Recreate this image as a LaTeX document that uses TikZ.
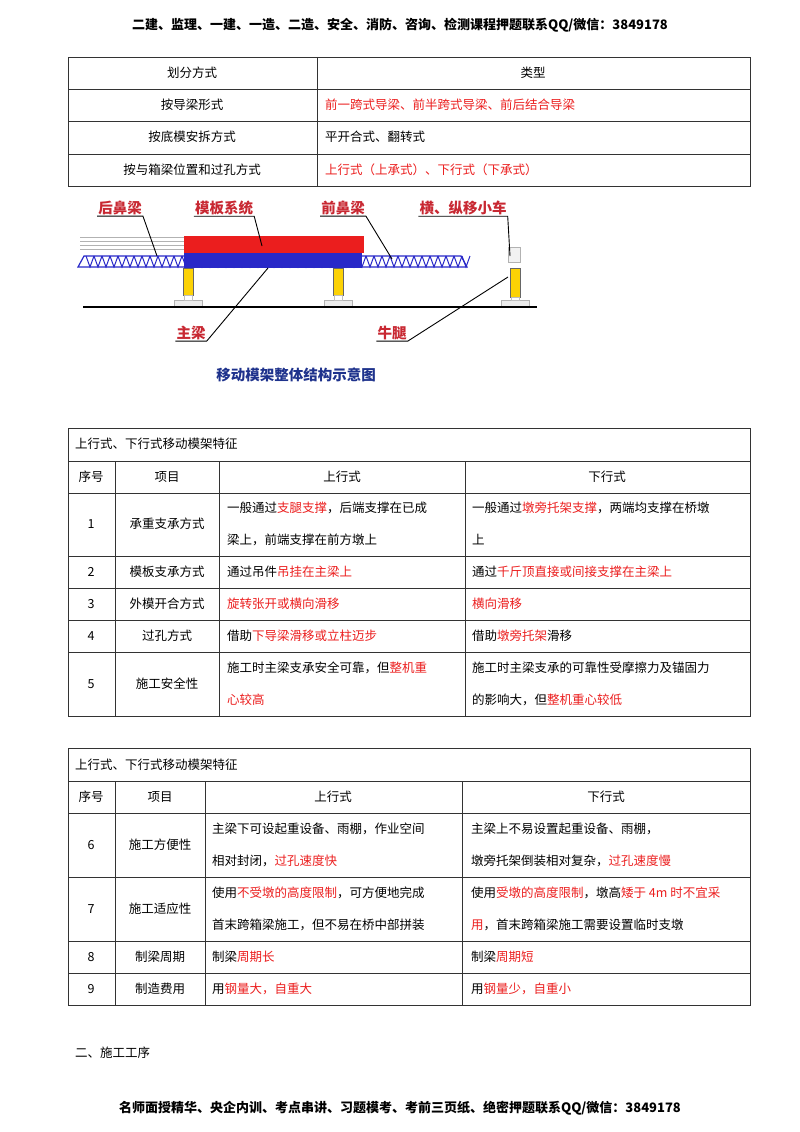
\documentclass[tikz,border=0pt]{standalone}
\usepackage{fontspec}
\setmainfont{Noto Sans CJK SC}
\definecolor{rd}{RGB}{235,30,30}
\definecolor{bl}{RGB}{40,40,200}
\definecolor{lbl}{RGB}{200,40,50}
\definecolor{cap}{RGB}{30,50,140}
\newcommand\R[1]{\textcolor{rd}{#1}}
\begin{document}
\begin{tikzpicture}[x=1pt,y=-1pt,
 t/.style={font=\fontsize{12.5}{14}\selectfont,inner sep=0pt,anchor=west},
 c/.style={font=\fontsize{12.5}{14}\selectfont,inner sep=0pt},
 grid/.style={line width=0.8pt,black!80},
 lab/.style={font=\bfseries\fontsize{14.5}{15}\selectfont,text=lbl,inner sep=1pt},
 ld/.style={line width=0.9pt}]
\useasboundingbox (0,0) rectangle (800,1132);
\node[c,font=\bfseries\fontsize{13}{15}\selectfont] (hdr) at (400,25) {二建、监理、一建、一造、二造、安全、消防、咨询、检测课程押题联系QQ/微信：3849178};
% table 1
\draw[grid] (68,57) rectangle (750,186);
\foreach \y in {89,121,154} \draw[grid] (68,\y) -- (750,\y);
\draw[grid] (317,57) -- (317,186);
\node[c] (a1) at (192,73) {划分方式};
\node[c] (a2) at (533,73) {类型};
\node[c] (a3) at (192,105) {按导梁形式};
\node[t] (a4) at (325,105) {\R{前一跨式导梁、前半跨式导梁、前后结合导梁}};
\node[c] (a5) at (192,137) {按底模安拆方式};
\node[t] (a6) at (325,137) {平开合式、翻转式};
\node[c] (a7) at (192,170) {按与箱梁位置和过孔方式};
\node[t] (a8) at (325,170) {\R{上行式（上承式）、下行式（下承式）}};
% figure
\foreach \yy in {237,241,245,249} \draw[gray!60,line width=0.8pt] (80,\yy) -- (184,\yy);
\draw[bl,line width=1.2pt] (78,267) -- (84,256) -- (461,256) -- (467,267) -- cycle;
\foreach \i in {0,...,47} {\pgfmathsetmacro\xa{86+\i*8}\draw[bl,line width=1pt] (\xa,256) -- (\xa+4,267) -- (\xa+8,256);}
\fill[rd] (184,236) rectangle (364,253);
\fill[bl] (184,253) rectangle (362,268);
\foreach \px/\bt in {188/295,338/295,515/297} {
 \fill[yellow!70!orange] (\px-5,268) rectangle (\px+5,\bt);
 \draw[black!60] (\px-5,268) rectangle (\px+5,\bt);
 \fill[gray!15] (\px-14,300) rectangle (\px+14,307);
 \draw[gray!60] (\px-14,300) rectangle (\px+14,307);
 \draw[gray!50] (\px-4,\bt) rectangle (\px+4,300);}
\draw[gray!60,fill=gray!10] (508,247) rectangle (520,262);
\draw[line width=1.3pt] (83,307) -- (537,307);
\node[lab] (l1) at (120,208) {后鼻梁};
\node[lab] (l2) at (224,208) {模板系统};
\node[lab] (l3) at (343,208) {前鼻梁};
\node[lab] (l4) at (463,208) {横、纵移小车};
\node[lab] (l5) at (191,333) {主梁};
\node[lab] (l6) at (392,333) {牛腿};
\draw[ld] (l1.south west) -- (l1.south east) -- (157,256);
\draw[ld] (l2.south west) -- (l2.south east) -- (262,246);
\draw[ld] (l3.south west) -- (l3.south east) -- (392,259);
\draw[ld] (l4.south west) -- (l4.south east) -- (510,256);
\draw[ld] (l5.south west) -- (l5.south east) -- (268,268);
\draw[ld] (l6.south west) -- (l6.south east) -- (508,277);
\node[c,font=\bfseries\fontsize{14.5}{15}\selectfont,text=cap] (fc) at (296,375) {移动模架整体结构示意图};
% table 2
\draw[grid] (68,428) rectangle (750,716);
\foreach \y in {461,493,556,588,620,652} \draw[grid] (68,\y) -- (750,\y);
\draw[grid] (115,461) -- (115,716); \draw[grid] (219,461) -- (219,716); \draw[grid] (465,461) -- (465,716);
\node[t] (h1) at (75,444) {上行式、下行式移动模架特征};
\node[c] (h2) at (91,477) {序号};
\node[c] (h3) at (167,477) {项目};
\node[c] (h4) at (342,477) {上行式};
\node[c] (h5) at (607,477) {下行式};
\node[c] (r1a) at (91,524) {1};
\node[c] (r1b) at (167,524) {承重支承方式};
\node[t] (r1c) at (227,508) {一般通过\R{支腿支撑}，后端支撑在已成};
\node[t] (r1d) at (227,540) {梁上，前端支撑在前方墩上};
\node[t] (r1e) at (472,508) {一般通过\R{墩旁托架支撑}，两端均支撑在桥墩};
\node[t] (r1f) at (472,540) {上};
\node[c] (r2a) at (91,572) {2};
\node[c] (r2b) at (167,572) {模板支承方式};
\node[t] (r2c) at (227,572) {通过吊件\R{吊挂在主梁上}};
\node[t] (r2d) at (472,572) {通过\R{千斤顶直接或间接支撑在主梁上}};
\node[c] (r3a) at (91,604) {3};
\node[c] (r3b) at (167,604) {外模开合方式};
\node[t] (r3c) at (227,604) {\R{旋转张开或横向滑移}};
\node[t] (r3d) at (472,604) {\R{横向滑移}};
\node[c] (r4a) at (91,636) {4};
\node[c] (r4b) at (167,636) {过孔方式};
\node[t] (r4c) at (227,636) {借助\R{下导梁滑移或立柱迈步}};
\node[t] (r4d) at (472,636) {借助\R{墩旁托架}滑移};
\node[c] (r5a) at (91,684) {5};
\node[c] (r5b) at (167,684) {施工安全性};
\node[t] (r5c) at (227,668) {施工时主梁支承安全可靠，但\R{整机重}};
\node[t] (r5d) at (227,700) {\R{心较高}};
\node[t] (r5e) at (472,668) {施工时主梁支承的可靠性受摩擦力及锚固力};
\node[t] (r5f) at (472,700) {的影响大，但\R{整机重心较低}};
% table 3
\draw[grid] (68,748) rectangle (750,1005);
\foreach \y in {781,813,877,941,973} \draw[grid] (68,\y) -- (750,\y);
\draw[grid] (115,781) -- (115,1005); \draw[grid] (205,781) -- (205,1005); \draw[grid] (462,781) -- (462,1005);
\node[t] (k1) at (75,765) {上行式、下行式移动模架特征};
\node[c] (k2) at (91,797) {序号};
\node[c] (k3) at (160,797) {项目};
\node[c] (k4) at (333,797) {上行式};
\node[c] (k5) at (606,797) {下行式};
\node[c] (s6a) at (91,845) {6};
\node[c] (s6b) at (160,845) {施工方便性};
\node[t] (s6c) at (212,829) {主梁下可设起重设备、雨棚，作业空间};
\node[t] (s6d) at (212,861) {相对封闭，\R{过孔速度快}};
\node[t] (s6e) at (471,829) {主梁上不易设置起重设备、雨棚，};
\node[t] (s6f) at (471,861) {墩旁托架倒装相对复杂，\R{过孔速度慢}};
\node[c] (s7a) at (91,909) {7};
\node[c] (s7b) at (160,909) {施工适应性};
\node[t] (s7c) at (212,893) {使用\R{不受墩的高度限制}，可方便地完成};
\node[t] (s7d) at (212,925) {首末跨箱梁施工，但不易在桥中部拼装};
\node[t] (s7e) at (471,893) {使用\R{受墩的高度限制}，墩高\R{矮于 4m 时不宜采}};
\node[t] (s7f) at (471,925) {\R{用}，首末跨箱梁施工需要设置临时支墩};
\node[c] (s8a) at (91,957) {8};
\node[c] (s8b) at (160,957) {制梁周期};
\node[t] (s8c) at (212,957) {制梁\R{周期长}};
\node[t] (s8d) at (471,957) {制梁\R{周期短}};
\node[c] (s9a) at (91,989) {9};
\node[c] (s9b) at (160,989) {制造费用};
\node[t] (s9c) at (212,989) {用\R{钢量大，自重大}};
\node[t] (s9d) at (471,989) {用\R{钢量少，自重小}};
\node[t] (sec) at (75,1053) {二、施工工序};
\node[c,font=\bfseries\fontsize{13}{15}\selectfont] (ftr) at (400,1108) {名师面授精华、央企内训、考点串讲、习题模考、考前三页纸、绝密押题联系QQ/微信：3849178};
\end{tikzpicture}
\end{document}
